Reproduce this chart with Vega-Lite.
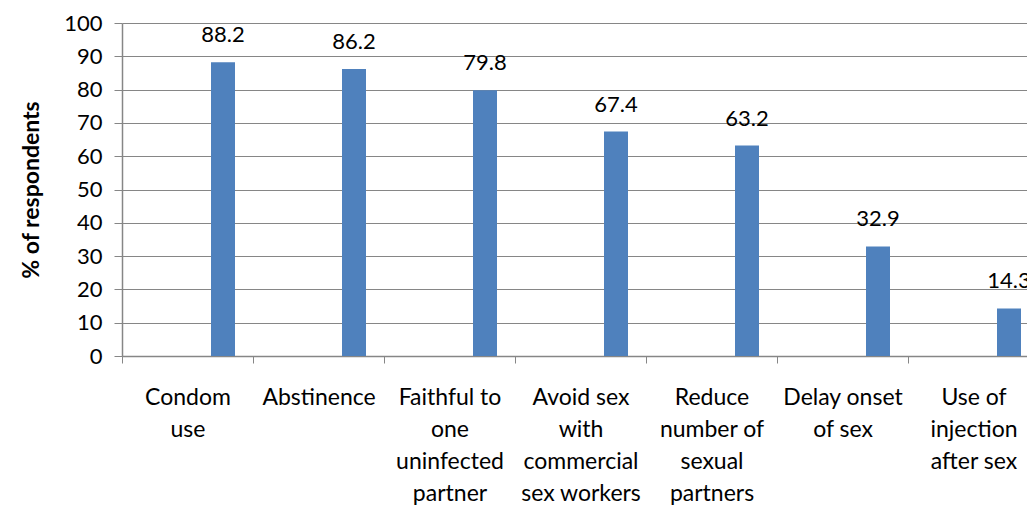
{
  "$schema": "https://vega.github.io/schema/vega-lite/v6.json",
  "autosize": "none",
  "width": 917,
  "height": 333,
  "padding": {"left": 122, "top": 23, "right": 0, "bottom": 149},
  "background": "white",
  "config": {
    "view": {"stroke": null},
    "font": "Lato",
    "axis": {"labelFont": "Lato", "titleFont": "Lato", "labelColor": "#000000", "titleColor": "#000000", "domainColor": "#868686", "tickColor": "#868686", "gridColor": "#868686"}
  },
  "data": {
    "values": [
      {"category": "Condom|use", "value": 88.2},
      {"category": "Abstinence", "value": 86.2},
      {"category": "Faithful to|one|uninfected|partner", "value": 79.8},
      {"category": "Avoid sex|with|commercial|sex workers", "value": 67.4},
      {"category": "Reduce|number of|sexual|partners", "value": 63.2},
      {"category": "Delay onset|of sex", "value": 32.9},
      {"category": "Use of|injection|after sex", "value": 14.3}
    ]
  },
  "encoding": {
    "x": {
      "field": "category",
      "type": "nominal",
      "sort": null,
      "scale": {"paddingInner": 0, "paddingOuter": 0},
      "axis": {
        "title": null,
        "labelAngle": 0,
        "labelExpr": "split(datum.label, '|')",
        "labelFontSize": 23,
        "labelLineHeight": 32,
        "labelPadding": 23,
        "labelBaseline": "top",
        "tickBand": "extent",
        "tickSize": 7,
        "domainWidth": 1.5,
        "labelLimit": 200
      }
    },
    "y": {
      "field": "value",
      "type": "quantitative",
      "scale": {"domain": [0, 100], "nice": false},
      "axis": {
        "title": "% of respondents",
        "titleFontSize": 23,
        "titleFontWeight": "bold",
        "titlePadding": 20,
        "values": [0, 10, 20, 30, 40, 50, 60, 70, 80, 90, 100],
        "labelFontSize": 22,
        "labelPadding": 12,
        "tickSize": 8,
        "grid": true,
        "gridWidth": 1.2,
        "domainWidth": 1.5
      }
    }
  },
  "layer": [
    {"mark": {"type": "bar", "width": 24, "xOffset": 35.5, "color": "#4F81BD"}},
    {"mark": {"type": "text", "xOffset": 35.5, "dy": -20, "baseline": "alphabetic", "fontSize": 22, "color": "#000000"}, "encoding": {"text": {"field": "value", "type": "quantitative", "format": ".1f"}}}
  ]
}
